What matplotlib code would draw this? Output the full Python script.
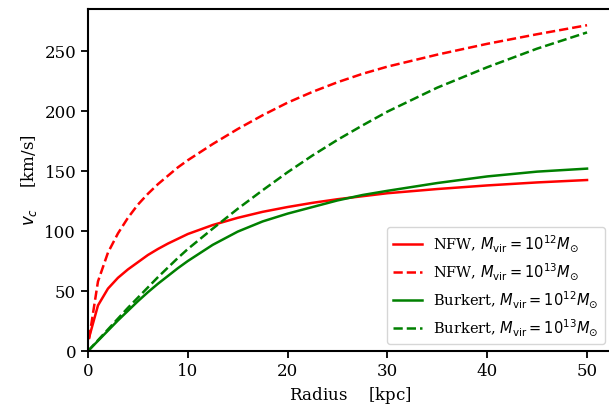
import matplotlib
matplotlib.use("Agg")
import matplotlib.pyplot as plt

plt.rcParams["font.family"] = "DejaVu Serif"
plt.rcParams["mathtext.fontset"] = "dejavusans"

# radius samples [kpc]
r_nfw = [0.1, 1, 2, 3, 4, 5, 6, 7, 8, 9, 10, 12.5, 15, 17.5, 20, 22.5, 25, 27.5, 30, 35, 40, 45, 50]
r_bur = [0, 1, 2, 3, 4, 5, 6, 7, 8, 9, 10, 12.5, 15, 17.5, 20, 22.5, 25, 27.5, 30, 35, 40, 45, 50]

# circular velocities [km/s]
v_nfw_12 = [11, 38, 52, 61, 68, 74, 80, 85, 89.5, 93.5, 97.5, 105, 111, 116, 120,
            123.5, 126.5, 129, 131.5, 135, 138, 140.5, 142.5]
v_nfw_13 = [10, 58, 82, 98, 111, 122, 131, 139, 146, 153, 159, 172.5, 185, 196.5, 207,
            216, 224, 231, 237, 247, 256, 264, 271.5]
v_bur_12 = [0, 8.5, 17, 25.5, 33.5, 41.5, 49, 56, 62.5, 69, 75, 88.5, 99.5, 108, 114.5,
            120, 125.5, 130, 133.5, 140, 145.5, 149.5, 152]
v_bur_13 = [0, 9, 18, 27, 36, 44.5, 53, 61.5, 69.5, 77.5, 85, 102, 118.5, 134, 149,
            163, 176, 188, 199.5, 219.5, 236.5, 252, 265.5]

fig = plt.figure(figsize=(6.09, 4.16), dpi=100)
ax = fig.add_axes([0.1445, 0.1562, 0.8604, 0.8221])

ax.plot(r_nfw, v_nfw_12, color="red", lw=1.8, label=r"NFW, $M_{\rm vir} = 10^{12} M_{\odot}$")
ax.plot(r_nfw, v_nfw_13, color="red", lw=1.8, ls="--", label=r"NFW, $M_{\rm vir} = 10^{13} M_{\odot}$")
ax.plot(r_bur, v_bur_12, color="green", lw=1.8, label=r"Burkert, $M_{\rm vir} = 10^{12} M_{\odot}$")
ax.plot(r_bur, v_bur_13, color="green", lw=1.8, ls="--", label=r"Burkert, $M_{\rm vir} = 10^{13} M_{\odot}$")

ax.set_xlim(0, 52.5)
ax.set_ylim(0, 285)
ax.set_xlabel(r"Radius $\quad$[kpc]", fontsize=12)
ax.set_ylabel(r"$v_c$ $\quad$[km/s]", fontsize=12)
ax.tick_params(labelsize=12, width=1.3, length=5)
for s in ax.spines.values():
    s.set_linewidth(1.5)

ax.legend(loc="lower right", fontsize=10.5)

fig.savefig("out.png", dpi=100)
